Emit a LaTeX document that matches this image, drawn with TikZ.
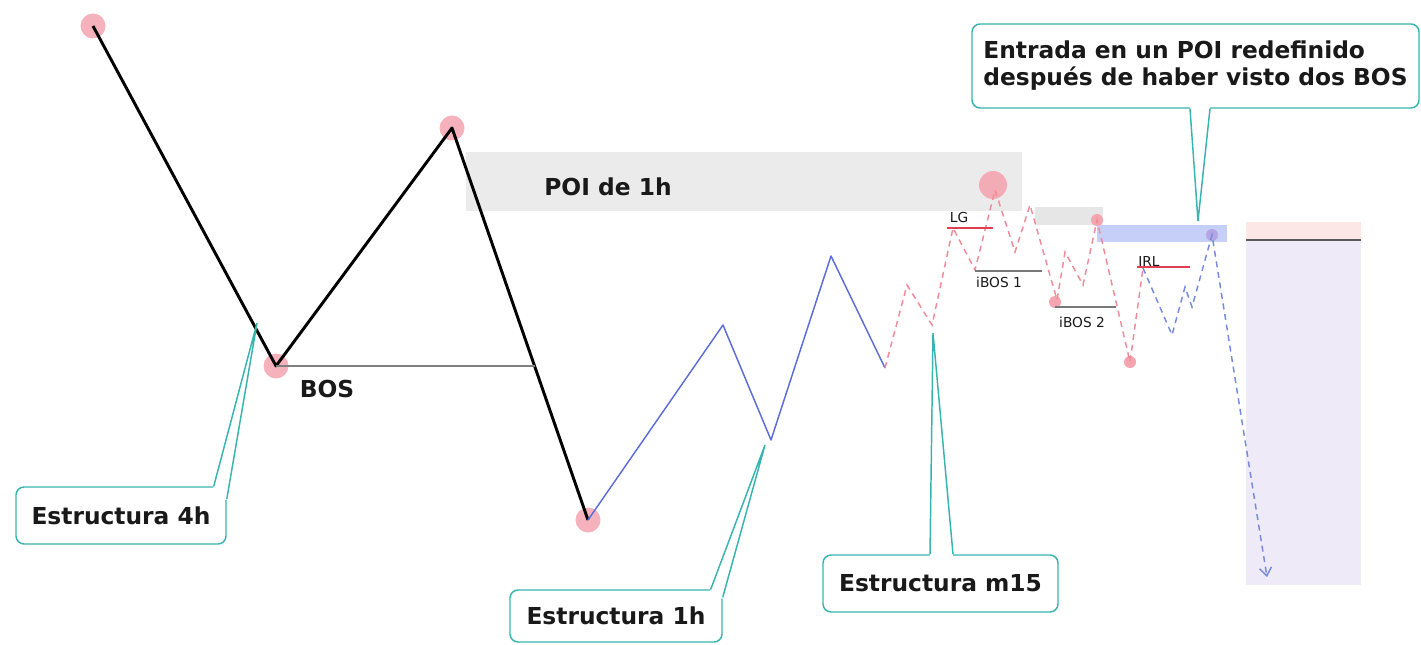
\documentclass[tikz,border=0pt]{standalone}
\usepackage{fontspec}
\setmainfont{DejaVu Sans}
\usetikzlibrary{arrows.meta,calc}
\definecolor{calline}{RGB}{56,180,176}
\definecolor{txt}{RGB}{25,25,25}
\definecolor{dotpink}{RGB}{244,165,176}
\definecolor{dotlav}{RGB}{180,165,228}
\definecolor{blueln}{RGB}{92,108,216}
\definecolor{pinkdash}{RGB}{240,140,154}
\definecolor{bluedash}{RGB}{120,138,222}
\definecolor{poigray}{RGB}{235,235,235}
\definecolor{boxblue}{RGB}{197,207,247}
\definecolor{boxpink}{RGB}{253,230,230}
\definecolor{boxlav}{RGB}{238,234,248}
\definecolor{redln}{RGB}{222,64,82}
\definecolor{grayln}{RGB}{120,120,120}
\tikzset{
  callout/.style={draw=calline, line width=1.1pt, fill=white, rounded corners=6pt, inner sep=0pt,
    font=\fontsize{17.5}{20.25}\selectfont\bfseries, text=txt},
  ptrline/.style={draw=calline, line width=1.1pt, line join=miter},
  blackln/.style={line width=2.2pt, black, line join=round},
  bluesolid/.style={line width=1.1pt, blueln, line join=round},
  pdash/.style={line width=1.1pt, pinkdash, dash pattern=on 4.5pt off 3.5pt},
  bdash/.style={line width=1.1pt, bluedash, dash pattern=on 4.5pt off 3.5pt},
  biglabel/.style={font=\fontsize{17.5}{20.25}\selectfont\bfseries, text=txt, inner sep=0pt},
  smalllabel/.style={font=\fontsize{10.3}{12}\selectfont, text=txt, inner sep=0pt},
}
\begin{document}
\begin{tikzpicture}[x=0.75pt,y=-0.75pt]
\useasboundingbox (0,0) rectangle (1421,645);

% zones
\fill[poigray] (466,152) rectangle (1022,211);
\fill[poigray!98!black] (1035,207) rectangle (1103,225);
\fill[boxblue] (1097,225) rectangle (1227,242);
\fill[boxpink] (1246,222) rectangle (1361,240);
\fill[boxlav] (1246,240) rectangle (1361,585);
\draw[line width=1.1pt, black!65] (1246,240) -- (1361,240);

% 4h structure points
\coordinate (A) at (93,26);
\coordinate (B) at (276,366);
\coordinate (C) at (452,128);
\coordinate (D) at (588,520);
\foreach \p in {A,B,C,D} \fill[dotpink, opacity=0.85] (\p) circle (12.5);
\draw[blackln] (A) -- (B) -- (C) -- (D);
\coordinate (Bend) at (535,366);
\draw[line width=1.5pt, black!50] (B) -- (Bend);
\node[biglabel] (bos) at (327,389) {BOS};
\node[biglabel] (poi) at (608,187) {POI de 1h};

% 1h structure
\coordinate (E1) at (723,325);
\coordinate (E2) at (771,440);
\coordinate (E3) at (831,256);
\coordinate (E4) at (885,368);
\draw[bluesolid] (D) -- (E1) -- (E2) -- (E3) -- (E4);

% m15 structure
\coordinate (F1) at (907,285);
\coordinate (F2) at (932,325);
\coordinate (F3) at (953,228);
\coordinate (F4) at (975,270);
\coordinate (F5) at (995,190);
\coordinate (F6) at (1015,252);
\coordinate (F7) at (1030,205);
\coordinate (F8) at (1057,300);
\coordinate (F9) at (1065,252);
\coordinate (F10) at (1083,285);
\coordinate (F11) at (1097,220);
\coordinate (F12) at (1130,362);
\coordinate (F13) at (1143,268);
\coordinate (G1) at (1172,335);
\coordinate (G2) at (1185,287);
\coordinate (G3) at (1192,307);
\coordinate (G4) at (1212,235);
\coordinate (G5) at (1267,577);

\fill[dotpink, opacity=0.9] (993,185) circle (14);
\fill[dotpink] (F11) circle (6);
\fill[dotpink] (1055,302) circle (6);
\fill[dotpink] (F12) circle (6);
\fill[dotlav] (G4) circle (6);

\draw[pdash] (E4) -- (F1) -- (F2) -- (F3) -- (F4) -- (F5) -- (F6) -- (F7) -- (F8) -- (F9) -- (F10) -- (F11) -- (F12) -- (F13);
\draw[bdash, -{Straight Barb[length=6pt,width=9pt]}] (F13) -- (G1) -- (G2) -- (G3) -- (G4) -- (G5);

% levels
\draw[line width=1.1pt, redln] (947,228) -- (993,228);
\node[smalllabel] (lg) at (959,218) {LG};
\draw[line width=1.5pt, grayln] (975,271) -- (1042,271);
\node[smalllabel] (ib1) at (999,282) {iBOS 1};
\draw[line width=1.5pt, grayln] (1055,307) -- (1116,307);
\node[smalllabel] (ib2) at (1082,322) {iBOS 2};
\draw[line width=1.1pt, redln] (1137,267) -- (1190,267);
\node[smalllabel] (irl) at (1149,261) {IRL};

% callouts
\coordinate (t4h) at (257,323);
\coordinate (t1h) at (765,445);
\coordinate (tm15) at (933,333);
\coordinate (tent) at (1198,221);

\node[callout, minimum width=157.5pt, minimum height=42.75pt] (c4h) at (121,515.5) {Estructura 4h};
\fill[white] ($(c4h.north east)+(-14,3)$) -- (t4h) -- ($(c4h.north east)+(1,14)$) -- ($(c4h.north east)+(-8,12)$) -- cycle;
\draw[ptrline] ($(c4h.north east)+(-13,0)$) -- (t4h) -- ($(c4h.north east)+(0,13)$);

\node[callout, minimum width=159pt, minimum height=39pt] (c1h) at (616,616) {Estructura 1h};
\fill[white] ($(c1h.north east)+(-13,3)$) -- (t1h) -- ($(c1h.north east)+(1,9)$) -- ($(c1h.north east)+(-8,10)$) -- cycle;
\draw[ptrline] ($(c1h.north east)+(-12,0)$) -- (t1h) -- ($(c1h.north east)+(0,8)$);

\node[callout, minimum width=176.25pt, minimum height=42.75pt] (cm15) at (940.5,583.5) {Estructura m15};
\fill[white] ($(cm15.north)+(-10.5,3)$) -- (tm15) -- ($(cm15.north)+(12.5,3)$) -- cycle;
\draw[ptrline] ($(cm15.north)+(-10.5,0)$) -- (tm15) -- ($(cm15.north)+(12.5,0)$);

\node[callout, minimum width=335.25pt, minimum height=63pt, align=left] (cent) at (1195.5,66) {Entrada en un POI redefinido\\después de haber visto dos BOS};
\fill[white] ($(cent.south)+(-5.5,-3)$) -- (tent) -- ($(cent.south)+(14.5,-3)$) -- cycle;
\draw[ptrline] ($(cent.south)+(-5.5,0)$) -- (tent) -- ($(cent.south)+(14.5,0)$);
\end{tikzpicture}
\end{document}
